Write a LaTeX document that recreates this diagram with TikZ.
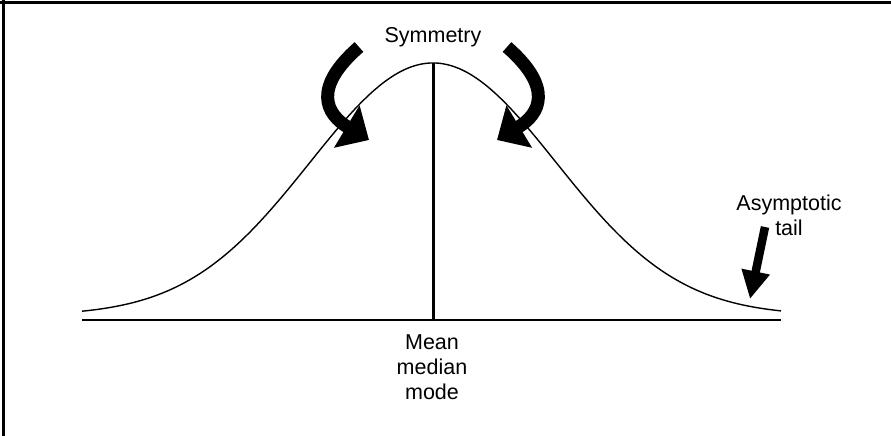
\documentclass[tikz,border=0pt]{standalone}
\usepackage{fontspec}
\setmainfont{Liberation Sans}
\usetikzlibrary{arrows.meta}

\begin{document}
\begin{tikzpicture}[
  x=1pt, y=-1pt,
  label text/.style={align=center, inner sep=0pt, font=\fontsize{21.5}{25}\selectfont},
  fat arrow/.style={line width=13pt, -{Triangle[length=26pt, width=48pt]}},
  tail arrow/.style={line width=8.5pt, -{Triangle[length=28pt, width=27pt]}}
]
\useasboundingbox (0,0) rectangle (891,436);
% frame
\draw[line width=3pt] (0,3) -- (891,3);
\draw[line width=3pt] (3,0) -- (3,436);

% axis and mean line
\coordinate (axisL) at (82,320);
\coordinate (axisR) at (781,320);
\coordinate (peak) at (433,63);
\coordinate (foot) at (433,320);
\draw[line width=2pt] (axisL) -- (axisR);
\draw[line width=3pt] (peak) -- (foot);

% bell curve
\draw[line width=1.4pt, domain=82:781, samples=150, smooth]
  plot (\x, {315.5 - 252.5*exp(-0.5*((\x-433)/123)^2)});

% labels
\node[label text] (sym) at (433,37) {Symmetry};
\node[label text] (mmm) at (432,367) {Mean\\median\\mode};
\node[label text] (tail) at (789,215) {Asymptotic\\tail};

% symmetry arrows
\coordinate (ls) at (359,47);
\coordinate (lt) at (369,140);
\coordinate (rs) at (507,47);
\coordinate (rt) at (497,140);
\draw[fat arrow] (ls) .. controls (312,88) and (326,114) .. (lt);
\draw[fat arrow] (rs) .. controls (554,88) and (540,114) .. (rt);

% tail arrow
\coordinate (ts) at (765,227);
\coordinate (tt) at (750,299);
\draw[tail arrow] (ts) -- (tt);
\end{tikzpicture}
\end{document}
